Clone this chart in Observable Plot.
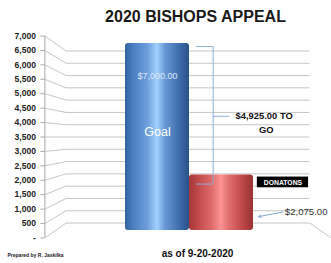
<!DOCTYPE html>
<html><head><meta charset="utf-8">
<script src="https://cdn.jsdelivr.net/npm/d3@7"></script>
<script src="https://cdn.jsdelivr.net/npm/@observablehq/plot@0.6"></script>
<style>
body{margin:0;background:#fff;width:331px;height:263px;overflow:hidden;font-family:"Liberation Sans",Arial,sans-serif}
#title{position:absolute;left:60px;top:5px;width:271px;text-align:center;font-weight:bold;font-size:16px;line-height:24px;color:#1a1a1a}
#chart{position:absolute;left:0;top:28px}
</style></head><body>
<div id="title"></div>
<div id="chart"></div>
<script>
// ---- data ----
const title = "2020 BISHOPS APPEAL";
const categories = ["Goal", "DONATONS"];
const amounts = [7000, 2075];
const tickValues = [0, 500, 1000, 1500, 2000, 2500, 3000, 3500, 4000, 4500, 5000, 5500, 6000, 6500, 7000];
const tickLabels = ["-", "500", "1,000", "1,500", "2,000", "2,500", "3,000", "3,500", "4,000", "4,500", "5,000", "5,500", "6,000", "6,500", "7,000"];
const asOfText = "as of 9-20-2020";
const creditText = "Prepared by R. Jaskilka";
const toGoSuffix = "TO";
const toGoLine2 = "GO";

// ---- layout helpers (3D perspective box, bars sit on the middle plane) ----
const fmt = d3.format("$,.2f");
const goal = amounts[0], donated = amounts[1];
const yMax = d3.max(tickValues);
const K = 0.08;                       // perspective strength
const WALL = [-1.094, 3.047];         // wall extent on mid plane (bar units)
const XMID = (WALL[0] + WALL[1]) / 2, YMID = yMax / 2;
const px = (x, d) => XMID + (x - XMID) * (1 - K * d); // d=-1 front, +1 back
const py = (v, d) => YMID + (v - YMID) * (1 - K * d);
const ticks = tickValues.map((v, i) => ({v, label: tickLabels[i]}));
const bars = categories.map((c, i) => ({c, i, v: amounts[i]}));
const grid = "#c6c6c6";

document.getElementById("title").textContent = title;

const marks = [
  // back wall grid
  Plot.ruleY(ticks, {y: d => py(d.v, 1), x1: () => px(WALL[0], 1), x2: () => px(WALL[1], 1), stroke: grid, strokeWidth: 1}),
  // side wall diagonals
  Plot.link(ticks, {x1: () => px(WALL[0], -1), y1: d => py(d.v, -1), x2: () => px(WALL[0], 1), y2: d => py(d.v, 1), stroke: grid, strokeWidth: 1}),
  // floor right edge
  Plot.link([0], {x1: () => px(WALL[1], 1), y1: () => py(0, 1), x2: () => px(WALL[1], -1), y2: () => py(0, -1), stroke: grid, strokeWidth: 1}),
  // front axis line
  Plot.ruleX([0], {x: () => px(WALL[0], -1), y1: () => py(0, -1), y2: () => py(yMax, -1), stroke: "#a8a8a8", strokeWidth: 1}),
  // tick marks
  Plot.ruleY(ticks, {y: d => py(d.v, -1), x1: () => px(WALL[0], -1), x2: () => px(WALL[0], -1), insetLeft: -4, stroke: "#a8a8a8"}),
  // tick labels
  Plot.text(ticks, {x: () => px(WALL[0], -1), y: d => py(d.v, -1), text: "label", textAnchor: "end", dx: -9, fontWeight: "bold", fontSize: 8.5, fill: "#222"}),
  // bars
  ...bars.map(b => Plot.rect([b], {x1: d => d.i, x2: d => d.i + 1, y1: 0, y2: d => d.v, fill: `url(#g${b.i})`, rx: 3})),
  // goal labels
  Plot.text([bars[0]], {x: d => d.i + 0.5, y: d => d.v, dy: 33, text: d => fmt(d.v), fill: "#dce8f7", fontSize: 9}),
  Plot.text([bars[0]], {x: d => d.i + 0.5, y: d => d.v / 2, dy: -5, text: d => d.c, fill: "#ffffff", fontSize: 12.5}),
  // bracket
  Plot.ruleY([goal], {y: d => d, x1: () => 1.11, x2: () => 1.37, dy: 3, stroke: "#8fb0d8"}),
  Plot.ruleY([donated], {y: d => d, x1: () => 1.11, x2: () => 1.37, dy: 9, stroke: "#8fb0d8"}),
  Plot.ruleX([1.37], {x: d => d, y1: () => goal, y2: () => donated, insetTop: 3, insetBottom: -9, stroke: "#8fb0d8"}),
  Plot.ruleY([(goal + donated) / 2], {y: d => d, x1: () => 1.37, x2: () => 1.63, dy: 7, stroke: "#8fb0d8"}),
  Plot.text([goal - donated], {x: () => 1.72, y: () => (goal + donated) / 2, dy: 7, text: d => `${fmt(d)} ${toGoSuffix}`, textAnchor: "start", fontWeight: "bold", fontSize: 9.4, fill: "#111"}),
  Plot.text([toGoLine2], {x: () => 2.2, y: () => (goal + donated) / 2, dy: 21, text: d => d, fontWeight: "bold", fontSize: 9.4, fill: "#111"}),
  // donations tag
  Plot.rect([bars[1]], {x1: d => d.i + 1.06, x2: d => d.i + 1.86, y1: d => d.v, y2: d => d.v, insetTop: 2, insetBottom: -12.7, fill: "#000"}),
  Plot.text([bars[1]], {x: d => d.i + 1.46, y: d => d.v, dy: 7.5, text: d => d.c, fill: "#fff", fontWeight: "bold", fontSize: 6.8}),
  // donation amount with arrow
  Plot.arrow([bars[1]], {x1: d => d.i + 1.46, y1: d => d.v / 3, x2: d => d.i + 1.08, y2: d => d.v / 4, stroke: "#86a8d2", headLength: 4, strokeWidth: 1}),
  Plot.text([bars[1]], {x: d => d.i + 1.49, y: d => d.v / 3, text: d => fmt(d.v), textAnchor: "start", fill: "#333", fontSize: 9.6}),
  // footer
  Plot.text([asOfText], {x: () => 1, y: () => 0, dx: 8, dy: 23, text: d => d, fontWeight: "bold", fontSize: 10, fill: "#111"}),
  Plot.text([creditText], {frameAnchor: "bottom-left", dx: 7, dy: 26.5, text: d => d, textAnchor: "start", fontWeight: "bold", fontSize: 5, fill: "#222"})
];

const chart = Plot.plot({
  width: 331, height: 235,
  marginTop: 15, marginBottom: 33, marginLeft: 0, marginRight: 0,
  x: {domain: [-125 / 64, 206 / 64], axis: null},
  y: {domain: [0, yMax], axis: null},
  style: {fontFamily: "'Liberation Sans', Arial, sans-serif", background: "transparent", overflow: "visible"},
  marks
});

const defs = d3.select(chart).insert("defs", ":first-child");
const gradients = [
  [["0", "#34629f"], ["0.12", "#4a7dc0"], ["0.35", "#6e9fdc"], ["0.5", "#a2d0ff"], ["0.62", "#6a9ad6"], ["0.85", "#3d6cab"], ["1", "#2a5189"]],
  [["0", "#a43838"], ["0.15", "#c24a4a"], ["0.35", "#df6a6a"], ["0.5", "#fb9393"], ["0.62", "#e27070"], ["0.85", "#bb4545"], ["1", "#993333"]]
];
gradients.forEach((stops, i) => {
  const g = defs.append("linearGradient").attr("id", `g${i}`).attr("x1", 0).attr("x2", 1).attr("y1", 0).attr("y2", 0);
  stops.forEach(([o, c]) => g.append("stop").attr("offset", o).attr("stop-color", c));
});

document.getElementById("chart").append(chart);
</script>
</body></html>
